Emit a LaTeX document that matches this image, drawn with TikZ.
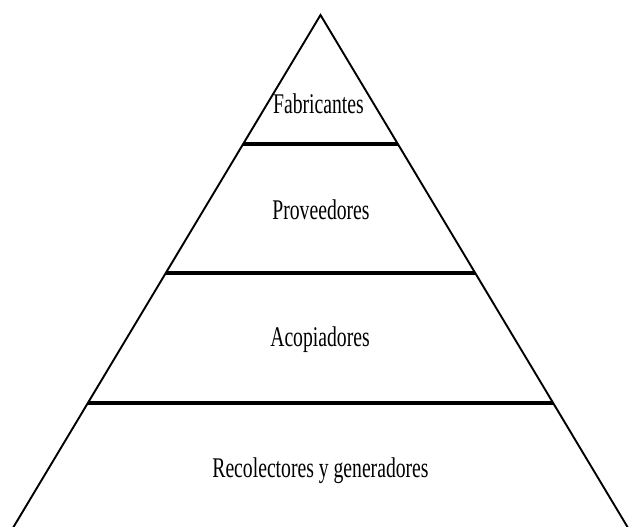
\documentclass[tikz,border=0pt]{standalone}
\usepackage{fontspec}
\setmainfont{Liberation Serif}[FakeStretch=0.69]
\begin{document}
\begin{tikzpicture}[x=1pt,y=-1pt,
  side/.style={line width=1.9pt, line join=miter},
  level/.style={line width=3.2pt},
  label/.style={font=\fontsize{28.5}{32}\selectfont, inner sep=0pt, anchor=base}]
\useasboundingbox (0,0) rectangle (629,527);
\coordinate (apex) at (320.5,15);
\coordinate (bl) at (11.7,530);
\coordinate (br) at (629.3,530);
\coordinate (l1) at (243.1,144);
\coordinate (r1) at (397.9,144);
\coordinate (l2) at (165.7,273);
\coordinate (r2) at (475.3,273);
\coordinate (l3) at (87.7,403);
\coordinate (r3) at (553.3,403);
\draw[side] (bl) -- (apex) -- (br);
\draw[level] (l1) -- (r1);
\draw[level] (l2) -- (r2);
\draw[level] (l3) -- (r3);
\node[label] (fab) at (318.5,113) {Fabricantes};
\node[label] (prov) at (321,219) {Proveedores};
\node[label] (acop) at (320,346) {Acopiadores};
\node[label] (reco) at (320.5,477) {Recolectores y generadores};
\end{tikzpicture}
\end{document}
